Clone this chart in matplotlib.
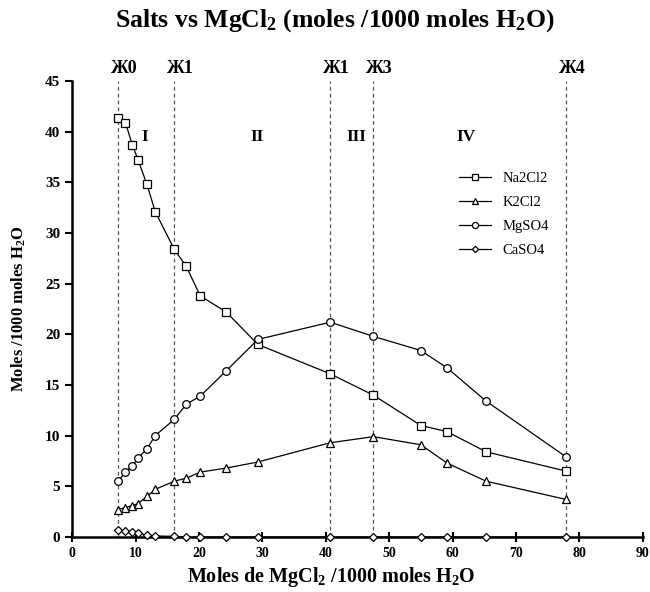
import matplotlib
matplotlib.use("Agg")
import matplotlib.pyplot as plt

plt.rcParams['font.family'] = ['Liberation Serif', 'DejaVu Serif']
plt.rcParams['mathtext.fontset'] = 'custom'
plt.rcParams['mathtext.rm'] = 'Liberation Serif'
plt.rcParams['mathtext.bf'] = 'Liberation Serif:bold'
plt.rcParams['mathtext.default'] = 'bf'

# MgCl2 concentration (moles /1000 moles H2O)
mgcl2 = [7.25, 8.4, 9.5, 10.4, 11.8, 13.1, 16.1, 18.0, 20.2, 24.3, 29.3,
         40.7, 47.5, 55.0, 59.1, 65.3, 77.9]

na2cl2 = [41.4, 40.9, 38.7, 37.2, 34.8, 32.1, 28.4, 26.7, 23.8, 22.2, 19.0,
          16.1, 14.0, 11.0, 10.4, 8.4, 6.5]
k2cl2 = [2.7, 2.9, 3.1, 3.3, 4.0, 4.7, 5.5, 5.8, 6.4, 6.8, 7.4,
         9.3, 9.9, 9.1, 7.3, 5.5, 3.7]
mgso4 = [5.5, 6.4, 7.0, 7.8, 8.7, 10.0, 11.6, 13.1, 13.9, 16.4, 19.5,
         21.2, 19.8, 18.4, 16.7, 13.4, 7.9]
caso4 = [0.7, 0.55, 0.45, 0.35, 0.2, 0.1, 0.05, 0.0, 0.0, 0.0, 0.0,
         0.0, 0.0, 0.0, 0.0, 0.0, 0.0]

# invariant points and crystallisation regions
inv_x = [7.25, 16.1, 40.7, 47.5, 77.9]
inv_labels = ['Ж0', 'Ж1', 'Ж1', 'Ж3', 'Ж4']
region_x = [11.5, 29.2, 44.8, 62.1]
region_labels = ['I', 'II', 'III', 'IV']

fig = plt.figure(figsize=(6.5, 5.92), dpi=100)
ax = fig.add_axes([0.111, 0.093, 0.878, 0.770])

for xv in inv_x:
    ax.axvline(xv, color='#555555', lw=0.9, ls=(0, (3, 2.5)), zorder=1)

series = [(na2cl2, 's', 'Na2Cl2', 5.5), (k2cl2, '^', 'K2Cl2', 5.5),
          (mgso4, 'o', 'MgSO4', 5.5), (caso4, 'D', 'CaSO4', 4.0)]
for vals, mk, lab, ms in series:
    ax.plot(mgcl2, vals, color='black', lw=0.9, marker=mk, ms=ms,
            mfc='white', mec='black', mew=0.9, label=lab, zorder=3,
            clip_on=False)

for xv, lab in zip(inv_x, inv_labels):
    ax.annotate(lab, xy=(xv, 45), xytext=(-5, 3), textcoords='offset points',
                ha='left', va='bottom', fontsize=13, fontweight='bold')
for xv, lab in zip(region_x, region_labels):
    ax.text(xv, 39.5, lab, ha='center', va='center', fontsize=12.5,
            fontweight='bold')

ax.set_xlim(0, 90)
ax.set_ylim(0, 45)
ax.set_xticks(range(0, 91, 10))
ax.set_yticks(range(0, 46, 5))
ax.spines['top'].set_visible(False)
ax.spines['right'].set_visible(False)
ax.spines['left'].set_linewidth(1.8)
ax.spines['bottom'].set_linewidth(1.8)
ax.tick_params(axis='x', direction='inout', length=7, width=1.5, labelsize=10)
ax.tick_params(axis='y', direction='out', length=5, width=1.5, labelsize=11)
for t in ax.get_xticklabels() + ax.get_yticklabels():
    t.set_fontweight('bold')

fig.text(0.51, 0.026, 'Moles de MgCl$_2$ /1000 moles H$_2$O', fontsize=14.5,
         fontweight='bold', ha='center', va='center')
ax.set_ylabel('Moles /1000 moles H$_2$O', fontsize=12, fontweight='bold',
              labelpad=12)
fig.text(0.515, 0.965, 'Salts vs MgCl$_2$ (moles /1000 moles H$_2$O)',
         ha='center', va='center', fontsize=18.5, fontweight='bold')

ax.legend(loc='upper left', bbox_to_anchor=(0.655, 0.83), frameon=False,
          fontsize=10.5, handlelength=2.2, labelspacing=0.75, markerscale=0.8)

fig.savefig('out.png', dpi=100)
